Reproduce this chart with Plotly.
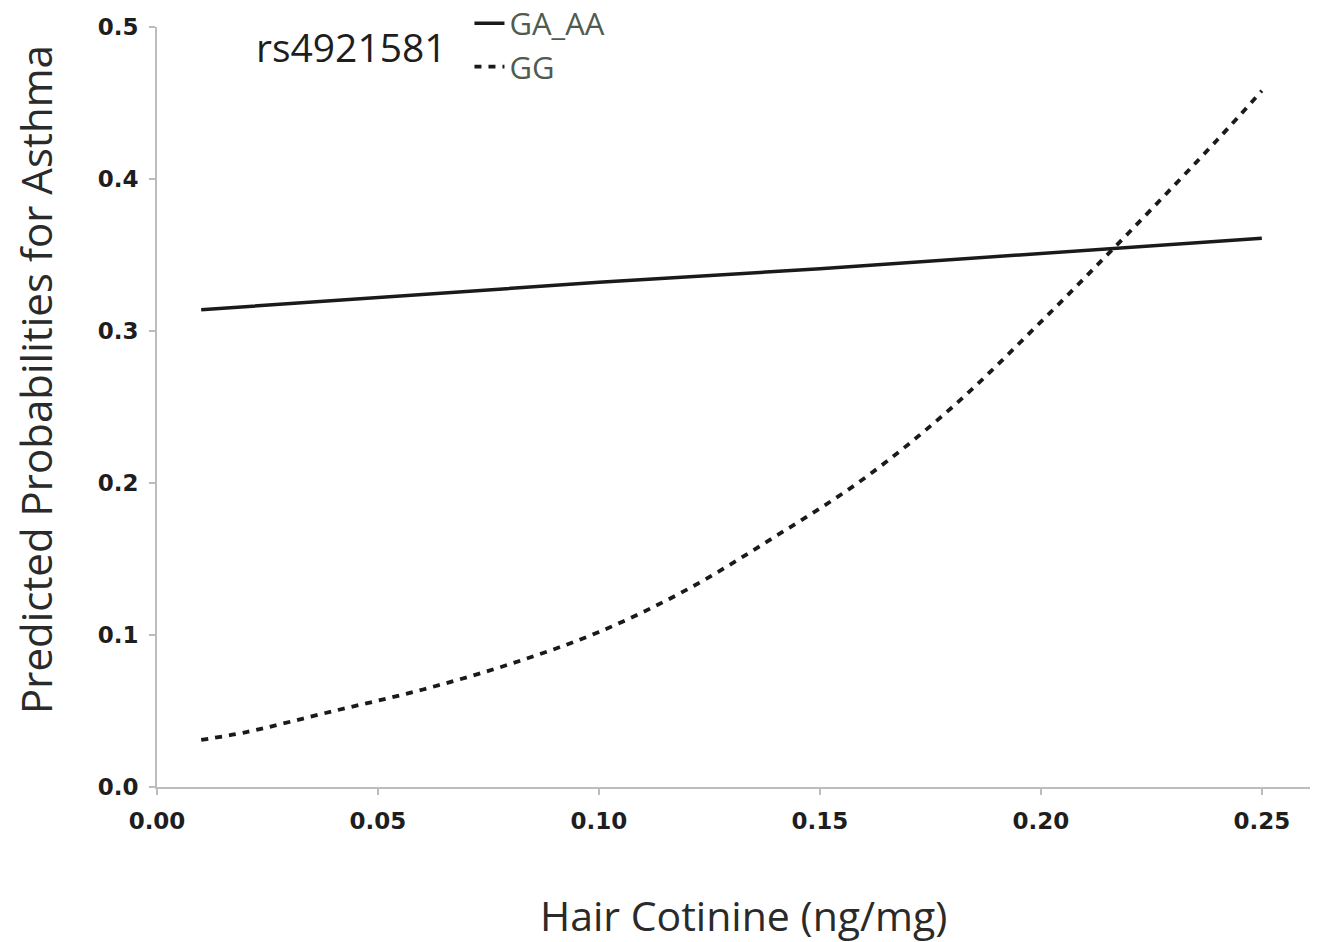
import plotly.graph_objects as go

# Data
x_ga = [0.01, 0.05, 0.10, 0.15, 0.20, 0.25]
y_ga = [0.314, 0.322, 0.332, 0.341, 0.351, 0.361]

x_gg = [0.01, 0.02, 0.04, 0.06, 0.08, 0.10, 0.12, 0.14, 0.16, 0.18, 0.20, 0.22, 0.24, 0.25]
y_gg = [0.031, 0.036, 0.050, 0.064, 0.081, 0.102, 0.130, 0.165, 0.203, 0.250, 0.306, 0.365, 0.426, 0.458]

x_ticks = [0.00, 0.05, 0.10, 0.15, 0.20, 0.25]
x_ticklabels = ["0.00", "0.05", "0.10", "0.15", "0.20", "0.25"]
y_ticks = [0.0, 0.1, 0.2, 0.3, 0.4, 0.5]
y_ticklabels = ["0.0", "0.1", "0.2", "0.3", "0.4", "0.5"]

fig = go.Figure()
fig.add_trace(go.Scatter(
    x=x_ga, y=y_ga, mode="lines", name="GA_AA",
    line=dict(color="#1a1a1a", width=3.5),
))
fig.add_trace(go.Scatter(
    x=x_gg, y=y_gg, mode="lines", name="GG",
    line=dict(color="#1a1a1a", width=3.8, dash="7px,7px", shape="spline"),
))

axis_color = "#bdbdbd"
tick_font = dict(family="DejaVu Sans", size=23, color="#1e1e1e", weight="bold")
title_font = dict(family="Open Sans", size=41, color="#2a2a2a")

fig.update_layout(
    width=1329, height=942,
    margin=dict(l=157, r=19, t=27, b=155, autoexpand=False),
    paper_bgcolor="white", plot_bgcolor="white",
    showlegend=True,
    legend=dict(
        x=0.271, y=1.04, xanchor="left", yanchor="top",
        font=dict(family="Open Sans", size=31, color="#4f5b4f"),
        bgcolor="rgba(0,0,0,0)", tracegroupgap=0,
        itemwidth=30,
    ),
    xaxis=dict(
        range=[0, 0.2609], tickvals=x_ticks, ticktext=x_ticklabels,
        showgrid=False, zeroline=False, showline=True, linecolor=axis_color,
        linewidth=2, ticks="outside", ticklen=6, tickcolor=axis_color, tickwidth=1.5,
        tickfont=tick_font, ticklabelstandoff=6,
    ),
    yaxis=dict(
        range=[0, 0.5], tickvals=y_ticks, ticktext=y_ticklabels,
        showgrid=False, zeroline=False, showline=True, linecolor=axis_color,
        linewidth=2, ticks="outside", ticklen=6, tickcolor=axis_color, tickwidth=1.5,
        tickfont=tick_font, ticklabelstandoff=6,
    ),
    annotations=[
        dict(text="rs4921581", xref="paper", yref="paper", x=0.084, y=0.974,
             xanchor="left", yanchor="middle", showarrow=False,
             font=dict(family="Open Sans", size=39, color="#1e1e1e")),
        dict(text="Hair Cotinine (ng/mg)", xref="paper", yref="paper",
             x=0.509, y=-0.168, xanchor="center", yanchor="middle",
             showarrow=False, font=title_font),
        dict(text="Predicted Probabilities for Asthma", xref="paper", yref="paper",
             x=-0.1058, y=0.5355, xanchor="center", yanchor="middle",
             textangle=-90, showarrow=False,
             font=dict(family="Open Sans", size=42, color="#2a2a2a")),
    ],
)

fig.write_html("out.html")
